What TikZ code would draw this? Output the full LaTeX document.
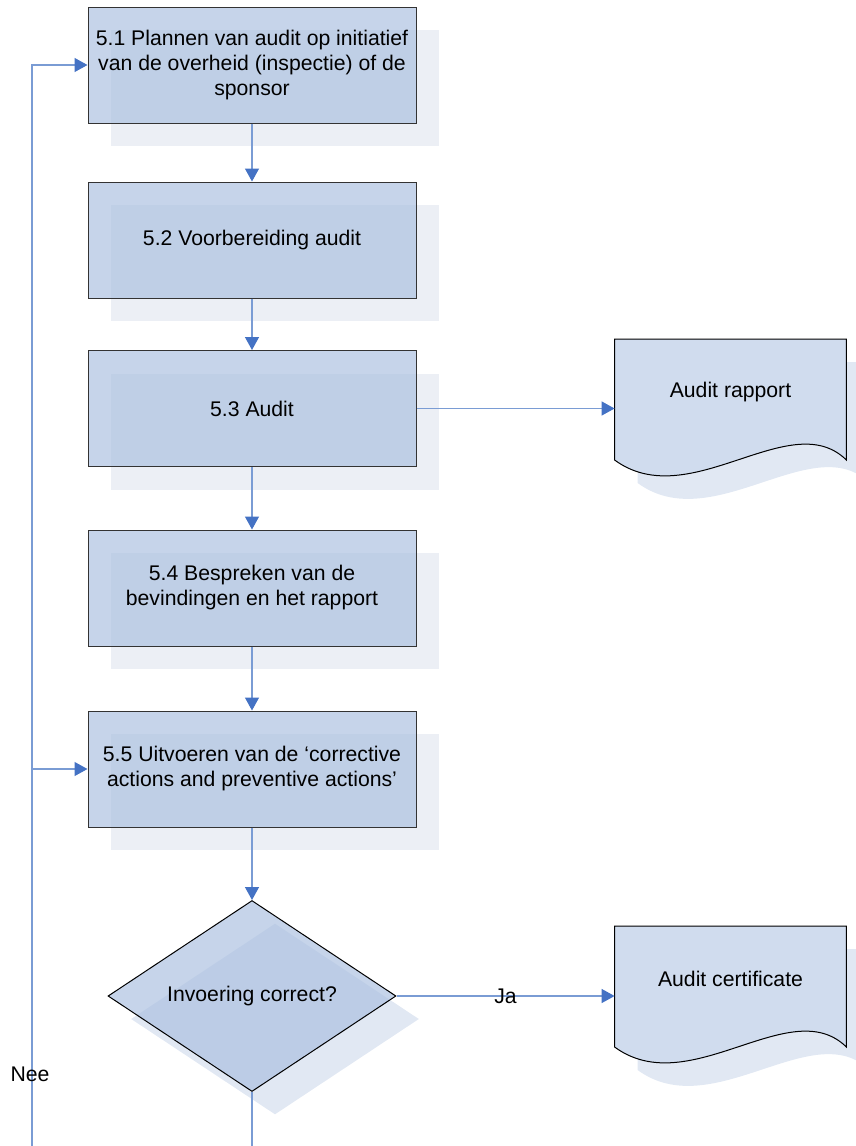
\documentclass[tikz,border=0pt]{standalone}
\usepackage{fontspec}
\setmainfont{Liberation Sans}
\usetikzlibrary{arrows.meta, positioning, shapes.geometric, shadows, calc, backgrounds}
\definecolor{stepFill}{RGB}{171,192,224}
\definecolor{stepShade}{RGB}{236,239,245}
\definecolor{docFill}{RGB}{208,220,238}
\definecolor{docShade}{RGB}{225,232,243}
\definecolor{flowLine}{RGB}{122,156,212}
\definecolor{flowTip}{RGB}{68,114,196}
\tikzset{
    boxFont/.style={font=\fontsize{10.6}{12.5}\selectfont},
    shadeOff/.style={general shadow={fill=#1, draw=none, fill opacity=1, shadow xshift=11.5pt, shadow yshift=-11.5pt}},
    stepBox/.style={rectangle, draw=black!80, line width=0.5pt, fill=stepFill, fill opacity=0.68, text opacity=1,
        minimum width=164pt, minimum height=58pt, inner sep=0pt, align=center, boxFont, shadeOff=stepShade},
    decision/.style={diamond, aspect=1.5, draw=black, line width=0.5pt, fill=stepFill, fill opacity=0.68, text opacity=1,
        minimum width=144pt, minimum height=95.5pt, inner sep=0pt, boxFont, shadeOff=docShade},
    docNode/.style={rectangle, anchor=north, minimum width=115.5pt, minimum height=53pt, inner sep=0pt, boxFont},
    docLine/.style={draw=black, line width=0.5pt, fill=docFill, shadeOff=docShade},
    flowLink/.style={draw=flowLine, line width=0.65pt},
    flow/.style={flowLink, -{Triangle[length=6.5pt, width=7pt, color=flowTip]}},
    flowLabel/.style={boxFont, inner sep=0pt}
}
\begin{document}
\begin{tikzpicture}[x=0.5pt, y=-0.5pt]

        % --- Frame (reference size in px) ---
        \useasboundingbox (0,0) rectangle (856,1146);

        % 1. Process steps
        \node[stepBox] (a1) at (252,65)  {5.1 Plannen van audit op initiatief\\van de overheid (inspectie) of de\\sponsor};
        \node[stepBox] (a2) at (252,240) {5.2 Voorbereiding audit};
        \node[stepBox] (a3) at (252,408.5) {5.3 Audit};
        \node[stepBox] (a4) at (252,588) {5.4 Bespreken van de\\bevindingen en het rapport};
        \node[stepBox] (a5) at (252,769) {5.5 Uitvoeren van de ‘corrective\\actions and preventive actions’};

        % 2. Decision
        \node[decision] (dec) at (252,996) {Invoering correct?};

        % 3. Documents (text nodes, outline drawn below them)
        \node[docNode] (rap)  at (730.5,339) {Audit rapport};
        \node[docNode] (cert) at (730.5,926) {Audit certificate};

        \begin{scope}[on background layer]
            \foreach \d in {rap, cert} {
                \draw[docLine] (\d.north west) -- (\d.north east) -- ++(0,121)
                    .. controls +(-56,-55) and +(75,55) .. ($(\d.north west)+(0,121)$) -- cycle;
            }
        \end{scope}

        % 4. Free ends at the lower edge
        \coordinate (loopB) at (32,1146);
        \coordinate (exitB) at (252,1146);

        % 5. Connectors
        \draw[flow] (a1) -- (a2);
        \draw[flow] (a2) -- (a3);
        \draw[flow] (a3) -- (a4);
        \draw[flow] (a4) -- (a5);
        \draw[flow] (a5) -- (dec);
        \draw[flow] (a3) -- (a3 -| rap.west);
        \draw[flow] (dec) -- (dec -| cert.west) node[flowLabel, midway] {Ja};
        \draw[flowLink] (dec) -- (exitB);

        % Loop back (Nee)
        \draw[flow] (loopB) |- (a1);
        \draw[flow] (loopB |- a5) -- (a5);
        \node[flowLabel] (nee) at (30,1074) {Nee};

    \end{tikzpicture}
\end{document}
